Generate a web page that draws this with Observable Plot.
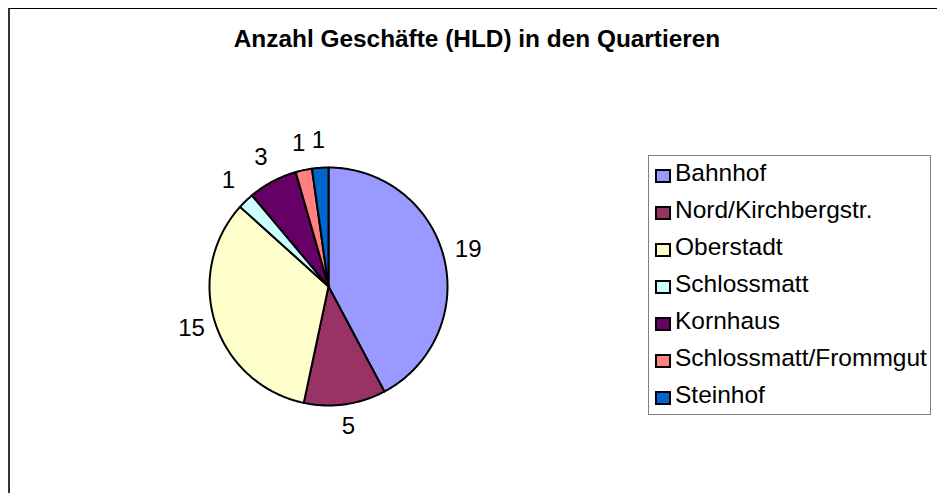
<!DOCTYPE html>
<html>
<head>
<meta charset="utf-8">
<script src="https://cdn.jsdelivr.net/npm/d3@7"></script>
<script src="https://cdn.jsdelivr.net/npm/@observablehq/plot@0.6"></script>
<style>
  html, body { margin: 0; padding: 0; background: #fff; }
  body { font-family: "Liberation Sans", Arial, sans-serif; }
  #wrap { position: relative; width: 937px; height: 493px; overflow: hidden; background: #fff; }
  #frame { position: absolute; left: 8px; top: 8px; width: 960px; height: 520px;
           border-top: 1px solid #000; border-left: 2px solid #333; }
  #chart { position: absolute; left: 0; top: 0; }
  #title { position: absolute; left: 0; width: 954px; top: 27px; line-height: 24px;
           text-align: center; font-weight: bold; font-size: 24.4px; color: #000; white-space: nowrap; }
  #legend { position: absolute; left: 648px; top: 155px; width: 281px; height: 258px;
            border: 1px solid #808080; background: #fff; }
  .row { position: absolute; left: 0; height: 24px; }
  .sw { position: absolute; left: 6px; width: 16px; height: 14px; box-sizing: border-box;
        border: 2px solid #000; }
  .lab { position: absolute; left: 26px; top: 0; font-size: 24.5px; line-height: 24px;
         white-space: nowrap; color: #000; }
</style>
</head>
<body>
<div id="wrap">
  <div id="frame"></div>
  <div id="chart"></div>
  <div id="title"></div>
  <div id="legend"></div>
</div>
<script>
// ---- data ----
const title = "Anzahl Geschäfte (HLD) in den Quartieren";
const names = ["Bahnhof", "Nord/Kirchbergstr.", "Oberstadt", "Schlossmatt", "Kornhaus", "Schlossmatt/Frommgut", "Steinhof"];
const counts = [19, 5, 15, 1, 3, 1, 1];
const colors = ["#9999FF", "#993366", "#FFFFCC", "#CCFFFF", "#660066", "#FF8080", "#0066CC"];

// ---- layout ----
const W = 937, H = 493, CX = 328, CY = 286, R = 119;

const arcs = d3.pie().sort(null).value(d => d.count)(names.map((name, i) => ({name, count: counts[i]})));
const pts = [];
for (const a of arcs) {
  pts.push({name: a.data.name, x: 0, y: 0});
  const n = Math.max(2, Math.ceil((a.endAngle - a.startAngle) / 0.01));
  for (let k = 0; k <= n; k++) {
    const t = a.startAngle + (a.endAngle - a.startAngle) * k / n;
    pts.push({name: a.data.name, x: Math.sin(t), y: Math.cos(t)});
  }
}
const labels = arcs.map(a => {
  const m = (a.startAngle + a.endAngle) / 2;
  return {text: String(a.data.count), x: 1.21 * Math.sin(m), y: 1.21 * Math.cos(m) + 0.02};
});

const plot = Plot.plot({
  width: W, height: H, margin: 0,
  x: {domain: [-CX / R, (W - CX) / R], axis: null},
  y: {domain: [-(H - CY) / R, CY / R], axis: null},
  color: {domain: names, range: colors},
  style: {background: "transparent", fontFamily: "'Liberation Sans', Arial, sans-serif"},
  marks: [
    Plot.line(pts, {x: "x", y: "y", z: "name", fill: "name", stroke: "#000", strokeWidth: 2,
                    curve: "linear-closed", strokeLinejoin: "round"}),
    Plot.text(labels, {x: "x", y: "y", text: "text", fontSize: 24, fill: "#000"})
  ]
});
document.getElementById("chart").appendChild(plot);

document.getElementById("title").textContent = title;

const legend = document.getElementById("legend");
names.forEach((name, i) => {
  const row = document.createElement("div");
  row.className = "row";
  row.style.top = (4.7 + 37 * i) + "px";
  row.style.width = "280px";
  const sw = document.createElement("div");
  sw.className = "sw";
  sw.style.background = colors[i];
  sw.style.top = "8px";
  const lab = document.createElement("div");
  lab.className = "lab";
  lab.textContent = name;
  row.appendChild(sw);
  row.appendChild(lab);
  legend.appendChild(row);
});
</script>
</body>
</html>
